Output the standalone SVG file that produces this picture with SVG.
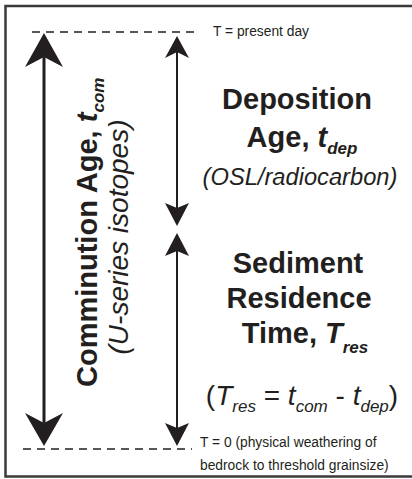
<svg xmlns="http://www.w3.org/2000/svg" width="412" height="479" viewBox="0 0 412 479">
<style>
.frame{fill:#fff;stroke:#3a3a3a;stroke-width:2.5}
.dash{stroke:#231f20;stroke-width:1.3;stroke-dasharray:8 6;fill:none}
.shaft{stroke:#231f20;fill:none}
.head{fill:#231f20;stroke:none}
.small{font-family:"Liberation Sans",Arial,sans-serif;font-size:13.8px;fill:#231f20}
.big{font-family:"Liberation Sans",Arial,sans-serif;font-size:29px;font-weight:bold;fill:#231f20}
.ital{font-family:"Liberation Sans",Arial,sans-serif;font-style:italic;fill:#231f20}
.bi{font-style:italic}
</style>
<rect class="frame" x="5.5" y="6" width="412" height="470.5"/>
<g id="connectors">
  <line class="dash" x1="32" y1="32" x2="200" y2="32"/>
  <line class="dash" x1="23" y1="449" x2="192" y2="449"/>
  <line class="shaft" x1="44" y1="50" x2="44" y2="430" stroke-width="3"/>
  <path class="head" d="M44,33 L63,67 L44,57 L25,67 Z"/>
  <path class="head" d="M44,446 L63,413 L44,423 L25,413 Z"/>
  <line class="shaft" x1="177" y1="45" x2="177" y2="215" stroke-width="2"/>
  <line class="shaft" x1="177" y1="245" x2="177" y2="435" stroke-width="2"/>
  <path class="head" d="M177,36 L189,58 L177,52 L165,58 Z"/>
  <path class="head" d="M177,226 L189,203 L177,208 L165,203 Z"/>
  <path class="head" d="M177,233 L189,256 L177,251 L165,256 Z"/>
  <path class="head" d="M177,446 L189,423 L177,428 L165,423 Z"/>
</g>
<g id="present">
  <text class="small" x="213" y="36">T = present day</text>
</g>
<g id="zero">
  <text class="small" x="200" y="447">T = 0 (physical weathering of</text>
  <text class="small" x="200" y="470">bedrock to threshold grainsize)</text>
</g>
<g id="comminution">
  <text class="big" transform="translate(97,387) rotate(-90)">Comminution Age, <tspan class="bi">t</tspan><tspan class="bi" font-size="17" dy="7">com</tspan></text>
  <text class="ital" font-size="28" text-anchor="middle" transform="translate(128,237) rotate(-90)">(U-series isotopes)</text>
</g>
<g id="deposition">
  <text class="big" x="297" y="109" text-anchor="middle">Deposition</text>
  <text class="big" x="302" y="147" text-anchor="middle">Age, <tspan class="bi">t</tspan><tspan class="bi" font-size="17" dy="7">dep</tspan></text>
  <text class="ital" font-size="23.7" x="300" y="185" text-anchor="middle">(OSL/radiocarbon)</text>
</g>
<g id="residence">
  <text class="big" x="298" y="273" text-anchor="middle">Sediment</text>
  <text class="big" x="299" y="308" text-anchor="middle">Residence</text>
  <text class="big" x="305" y="343" text-anchor="middle">Time, <tspan class="bi">T</tspan><tspan class="bi" font-size="17" dy="10">res</tspan></text>
  <text class="ital" font-size="28" x="302" y="405" text-anchor="middle"><tspan font-style="normal">(</tspan>T<tspan font-size="17" dy="7">res</tspan><tspan font-style="normal" dy="-7"> = </tspan>t<tspan font-size="17" dy="7">com</tspan><tspan font-style="normal" dy="-7"> - </tspan>t<tspan font-size="17" dy="7">dep</tspan><tspan font-style="normal" dy="-7">)</tspan></text>
</g>
</svg>
